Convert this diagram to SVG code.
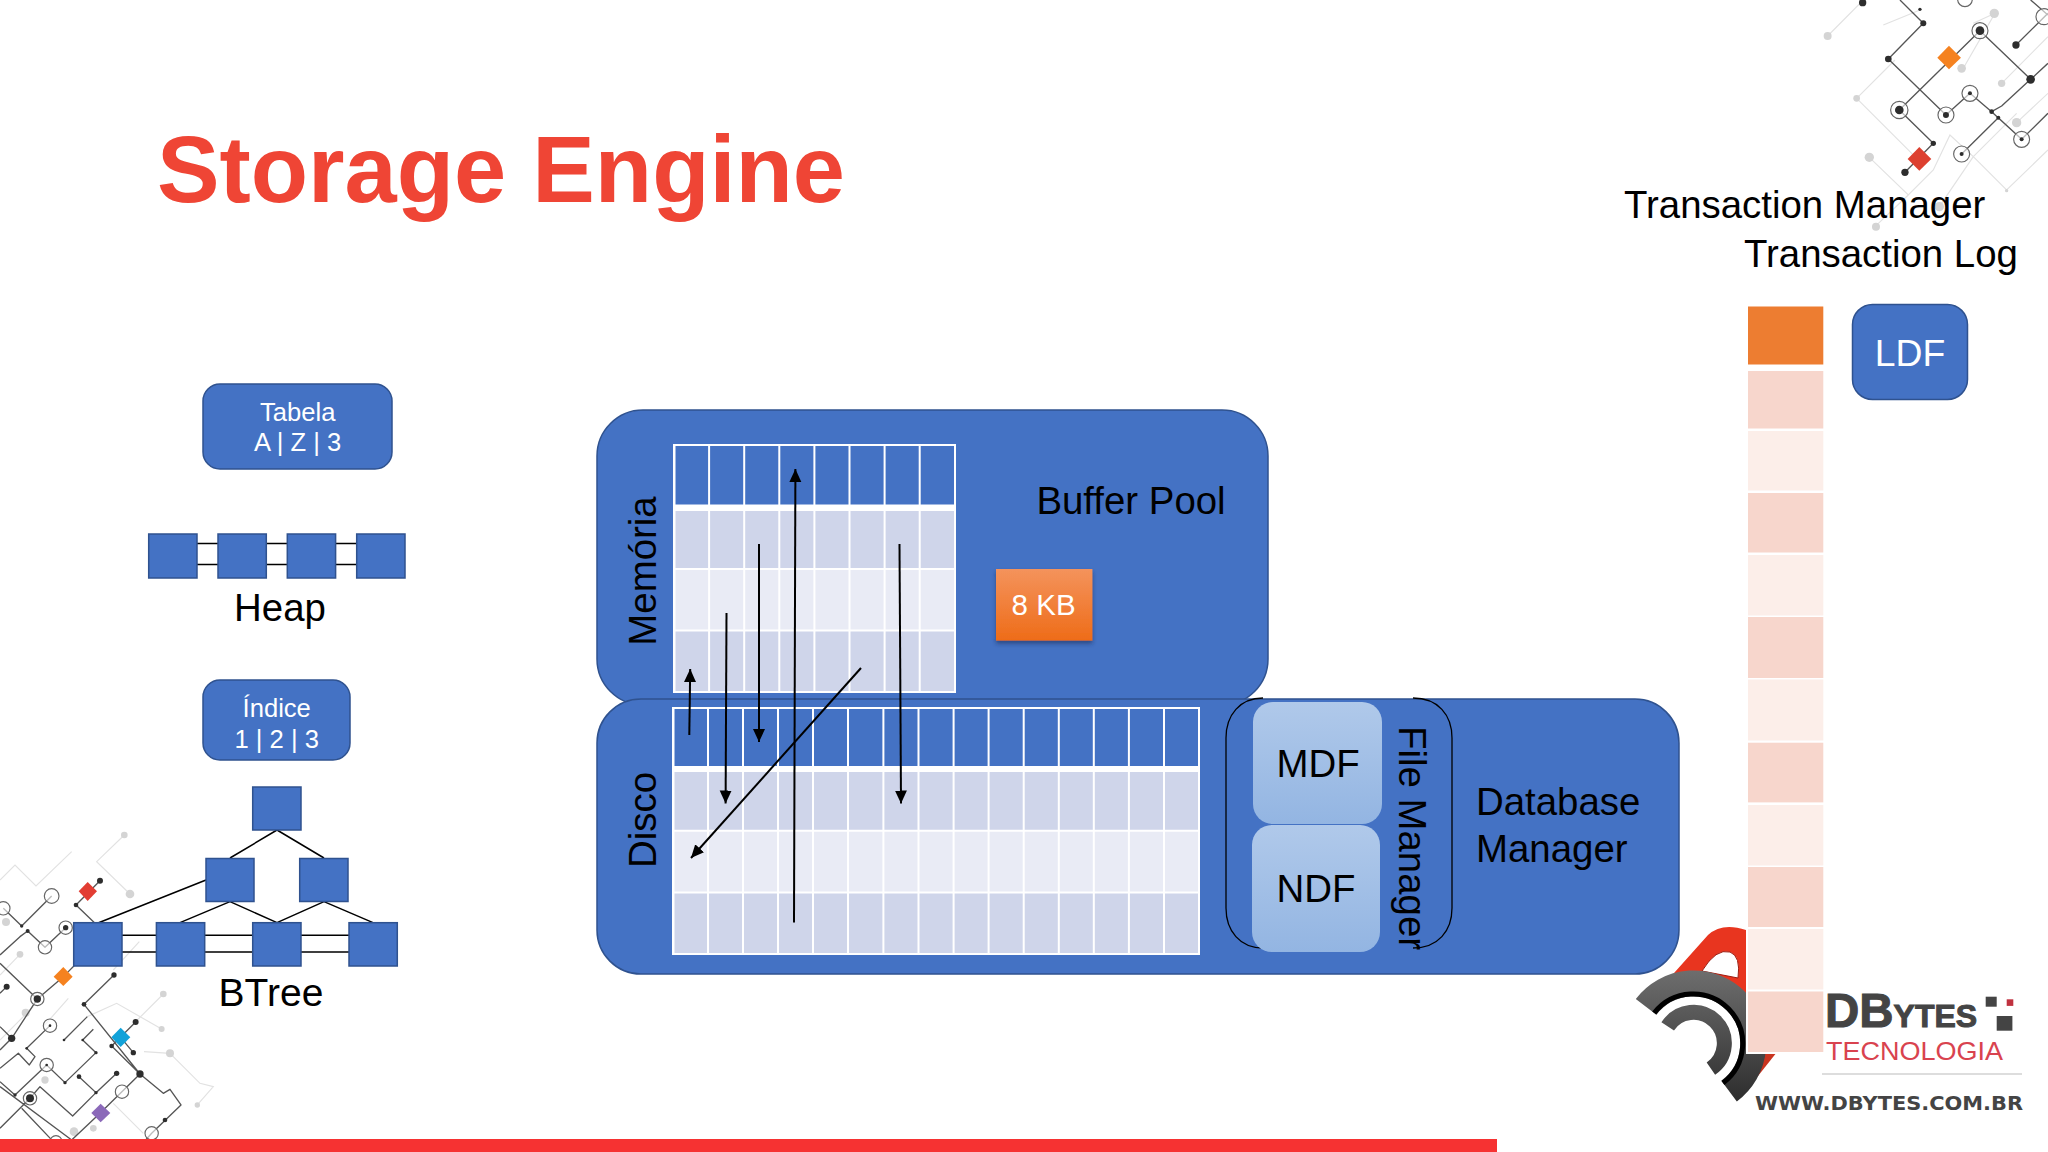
<svg xmlns="http://www.w3.org/2000/svg" width="2048" height="1152" viewBox="0 0 2048 1152">
<style>
text{font-family:"Liberation Sans",Arial,sans-serif}
.t{font-size:38.4px;fill:#000}
.tm{font-size:38.4px;fill:#000;text-anchor:middle}
.w24{font-size:25.6px;fill:#fff;text-anchor:middle}
.blue{fill:#4472C4;stroke:#2F528F;stroke-width:1.5}
.sq{fill:#4472C4;stroke:#2F528F;stroke-width:1.5}
.hd{fill:#4472C4}.r1{fill:#CFD5EA}.r2{fill:#E9EBF5}
.gl{stroke:#fff;stroke-width:2;fill:none}
.lk{stroke:#000;stroke-width:1.5;fill:none}
.ar{stroke:#000;stroke-width:2;fill:none;marker-end:url(#ah)}
.cd{stroke:#555;stroke-width:4;fill:none;stroke-linejoin:round}
.cl{stroke:#e2e2e2;stroke-width:3.5;fill:none}
.dd{fill:#2d2d2d}.ld{fill:#d4d4d4}
.ring{fill:#fff;fill-opacity:.6;stroke:#666;stroke-width:3.5}
.dark{fill:#F7D6CC}.lite{fill:#FCEEE9}
</style>
<defs>
<marker id="ah" markerUnits="userSpaceOnUse" markerWidth="13" markerHeight="13" refX="13" refY="6.5" orient="auto"><path d="M0 0.5L13 6.5L0 12.5Z" fill="#000"/></marker>
<linearGradient id="og" x1="0" y1="0" x2="0" y2="1"><stop offset="0" stop-color="#F4935C"/><stop offset="1" stop-color="#EE6C18"/></linearGradient>
<linearGradient id="lb" x1="0" y1="0" x2="0" y2="1"><stop offset="0" stop-color="#B0C9EA"/><stop offset="1" stop-color="#93B5E2"/></linearGradient>
<linearGradient id="gb" gradientUnits="userSpaceOnUse" x1="0" y1="970" x2="0" y2="1100"><stop offset="0" stop-color="#6E6E6E"/><stop offset="1" stop-color="#2E2E2E"/></linearGradient>
<filter id="sh" x="-20%" y="-20%" width="140%" height="140%"><feDropShadow dx="0" dy="3" stdDeviation="2" flood-color="#1d2f55" flood-opacity=".6"/></filter>
</defs>
<rect width="2048" height="1152" fill="#fff"/>

<g id="decor-top-right" transform="translate(1600,0) scale(.3333)">
<path class="cl" d="M683 108L790 0M770 295L885 180M770 295L945 470M808 472L925 585L1000 510L1050 405L1120 470L1220 570L1344 450M825 680L925 585M1090 205L1185 40L1120 70M1205 250L1344 110M1250 368L1344 280M1120 470L1250 340M850 75L960 30M1018 620L1120 470"/>
<circle class="ld" cx="683" cy="108" r="12"/><circle class="ld" cx="770" cy="295" r="10"/><circle class="ld" cx="808" cy="472" r="14"/><circle class="ld" cx="828" cy="680" r="12"/><circle class="ld" cx="1183" cy="40" r="14"/><circle class="ld" cx="1085" cy="205" r="13"/><circle class="ld" cx="1205" cy="250" r="11"/><circle class="ld" cx="1250" cy="368" r="14"/><circle class="ld" cx="1018" cy="620" r="14"/><circle class="ld" cx="1220" cy="572" r="5"/>
<path class="cd" d="M900 0L970 70L865 177L1038 345L1110 280L1175 335L1205 318L1292 238L1140 92L898 330L1000 430L915 517M1292 238L1344 190M1248 135L1344 40M1292 0L1344 45M1085 462L1195 353L1265 418L1344 340M1175 335L1265 418"/>
<circle class="ring" cx="898" cy="330" r="26"/><circle class="ring" cx="1140" cy="92" r="24"/><circle class="ring" cx="1038" cy="345" r="24"/><circle class="ring" cx="1110" cy="280" r="24"/><circle class="ring" cx="1085" cy="462" r="24"/><circle class="ring" cx="1265" cy="418" r="24"/><circle class="ring" cx="1095" cy="-2" r="22"/><circle class="ring" cx="1332" cy="50" r="24"/>
<circle class="dd" cx="788" cy="8" r="11"/><circle class="dd" cx="970" cy="70" r="9"/><circle class="dd" cx="865" cy="177" r="10"/><circle class="dd" cx="898" cy="330" r="13"/><circle class="dd" cx="1140" cy="92" r="13"/><circle class="dd" cx="1038" cy="345" r="9"/><circle class="dd" cx="1110" cy="280" r="6"/><circle class="dd" cx="1292" cy="238" r="13"/><circle class="dd" cx="1248" cy="135" r="11"/><circle class="dd" cx="1175" cy="335" r="7"/><circle class="dd" cx="1195" cy="353" r="6"/><circle class="dd" cx="1000" cy="430" r="8"/><circle class="dd" cx="915" cy="517" r="11"/><circle class="dd" cx="1085" cy="462" r="6"/><circle class="dd" cx="1265" cy="418" r="6"/><circle class="dd" cx="960" cy="28" r="5"/>
<path fill="#F58220" d="M1047 137L1083 173L1047 208L1012 173Z"/>
<path fill="#DD4030" d="M958 441L994 477L958 512L923 477Z"/>
</g>

<g id="decor-bottom-left" transform="translate(0,820) scale(.3333)">
<path class="cl" d="M373 45L290 125L390 222M215 95L108 198L45 135L0 180M60 403L0 465M490 522L400 612M432 695L510 700L600 790L640 800L592 855M418 365L340 450M485 627L350 550L262 590M100 560L0 660M205 535L130 620M340 850L430 940"/>
<circle class="ld" cx="373" cy="45" r="10"/><circle class="ld" cx="390" cy="222" r="13"/><circle class="ld" cx="18" cy="306" r="12"/><circle class="ld" cx="60" cy="403" r="10"/><circle class="ld" cx="77" cy="578" r="12"/><circle class="ld" cx="490" cy="522" r="10"/><circle class="ld" cx="485" cy="627" r="9"/><circle class="ld" cx="510" cy="700" r="12"/><circle class="ld" cx="592" cy="855" r="8"/><circle class="ld" cx="135" cy="780" r="11"/><circle class="ld" cx="222" cy="935" r="13"/><circle class="ld" cx="280" cy="925" r="10"/>
<path class="cd" d="M300 182L228 255L285 310M342 465L252 553L420 762L490 820L510 808L543 855L455 940L405 996M335 678L420 762L300 880L215 960M407 606L335 678M362 652L400 698M197 323L135 382L83 333L60 350L0 405M10 265L65 318L155 228M0 430L112 537L190 470L230 430M112 537L35 655L0 620M35 655L0 690M20 500L0 520M150 617L80 685L105 710L88 735L55 700L0 745M262 590L192 660M280 628L248 660L288 698L195 788L140 735L45 825L0 785M237 770L288 818L350 760M90 835L120 800L218 888L288 818M90 835L0 925M0 800L215 960M65 865L160 965"/>
<circle class="ring" cx="155" cy="228" r="22"/><circle class="ring" cx="10" cy="265" r="20"/><circle class="ring" cx="197" cy="323" r="20"/><circle class="ring" cx="135" cy="382" r="20"/><circle class="ring" cx="112" cy="537" r="20"/><circle class="ring" cx="150" cy="617" r="20"/><circle class="ring" cx="140" cy="735" r="20"/><circle class="ring" cx="90" cy="835" r="20"/><circle class="ring" cx="366" cy="815" r="20"/><circle class="ring" cx="455" cy="940" r="20"/><circle class="ring" cx="168" cy="965" r="18"/>
<circle class="dd" cx="300" cy="182" r="9"/><circle class="dd" cx="228" cy="255" r="7"/><circle class="dd" cx="342" cy="465" r="8"/><circle class="dd" cx="252" cy="553" r="7"/><circle class="dd" cx="335" cy="678" r="7"/><circle class="dd" cx="407" cy="606" r="9"/><circle class="dd" cx="400" cy="698" r="8"/><circle class="dd" cx="420" cy="762" r="11"/><circle class="dd" cx="350" cy="760" r="8"/><circle class="dd" cx="237" cy="770" r="7"/><circle class="dd" cx="288" cy="818" r="5"/><circle class="dd" cx="495" cy="900" r="7"/><circle class="dd" cx="197" cy="323" r="8"/><circle class="dd" cx="83" cy="333" r="6"/><circle class="dd" cx="65" cy="318" r="5"/><circle class="dd" cx="112" cy="537" r="11"/><circle class="dd" cx="35" cy="655" r="11"/><circle class="dd" cx="20" cy="500" r="9"/><circle class="dd" cx="90" cy="835" r="12"/><circle class="dd" cx="45" cy="825" r="5"/><circle class="dd" cx="195" cy="788" r="5"/><circle class="dd" cx="288" cy="698" r="5"/><circle class="dd" cx="248" cy="660" r="4"/><circle class="dd" cx="192" cy="660" r="4"/><circle class="dd" cx="80" cy="685" r="4"/><circle class="dd" cx="150" cy="617" r="4"/><circle class="dd" cx="140" cy="735" r="4"/>
<path fill="#E23D33" d="M263 186L291 214L263 243L236 214Z"/>
<path fill="#F58220" d="M190 441L218 470L190 498L161 470Z"/>
<path fill="#12A2D9" d="M362 623L391 652L362 681L334 652Z"/>
<path fill="#8B69B9" d="M302 851L331 879L302 907L274 879Z"/>
</g>

<rect id="footer-bar" x="0" y="1139" width="1497" height="13" fill="#F63232"/>

<text id="title" x="157" y="202" font-size="93.8" font-weight="700" fill="#EF4535">Storage Engine</text>

<g id="logo">
<path fill="#E8351F" d="M1666 982L1708 935Q1722 922 1746 930V1012L1700 990Z"/>
<path fill="#C9341F" d="M1748 1052H1777L1758 1076L1745 1066Z"/>
<path fill="#fff" stroke="#9d1c10" stroke-width="1" d="M1702 971Q1716 948 1730 952Q1741 956 1738 978Z"/>
<path fill="none" stroke="url(#gb)" stroke-width="26" d="M1646.1 1006.9A59.7 59.7 0 1 1 1729.1 1091.1"/>
<path fill="none" stroke="#000" stroke-width="5" d="M1654.2 1013A49.5 49.5 0 1 1 1723 1083"/>
<path fill="none" stroke="url(#gb)" stroke-width="15" d="M1667.7 1026.4A30.8 30.8 0 1 1 1710.9 1068.6"/>
<text x="1825" y="1027" font-size="47.5" font-weight="700" fill="#444" stroke="#444" stroke-width="1">DB<tspan font-size="32">YTES</tspan></text>
<rect x="1985.7" y="996.7" width="11" height="10" fill="#444"/><rect x="2006.7" y="999.3" width="6.6" height="6.6" fill="#C0313F"/><rect x="1996.7" y="1016" width="15.7" height="14.7" fill="#444"/>
<text x="1826" y="1060" font-size="25.6" fill="#D9434F" textLength="177" lengthAdjust="spacingAndGlyphs">TECNOLOGIA</text>
<rect x="1822" y="1073" width="200" height="2" fill="#DDD"/>
<text x="1755" y="1110" font-size="20" font-weight="700" fill="#444" style="font-family:'DejaVu Sans',sans-serif" textLength="268" lengthAdjust="spacingAndGlyphs">WWW.DBYTES.COM.BR</text>
</g>

<g id="node-tabela"><rect class="blue" x="203" y="384" width="189" height="85" rx="17"/><text class="w24" x="297.7" y="420.5">Tabela</text><text class="w24" x="297.7" y="451">A | Z | 3</text></g>
<g id="connectors-tree">
<path class="lk" d="M197 543.4H218M197 564.4H218M266 543.4H287M266 564.4H287M335.7 543.4H357M335.7 564.4H357"/>
<path class="lk" d="M277 830L230 858M277 830L324 858M206 880L98 923M230 901.6L180 922.6M230 901.6L277 922.6M324 901.6L277 922.6M324 901.6L373 922.6"/>
<path class="lk" d="M122 935.3H156M122 952H156M204.7 935.3H252.7M204.7 952H252.7M301 935.3H349M301 952H349"/>
</g>
<g id="node-heap-1"><rect class="sq" x="148.7" y="534" width="48.3" height="44"/></g>
<g id="node-heap-2"><rect class="sq" x="218" y="534" width="48.3" height="44"/></g>
<g id="node-heap-3"><rect class="sq" x="287.3" y="534" width="48.3" height="44"/></g>
<g id="node-heap-4"><rect class="sq" x="356.7" y="534" width="48.3" height="44"/></g>
<text id="label-heap" class="tm" x="280" y="621">Heap</text>
<g id="node-indice"><rect class="blue" x="203" y="680" width="147" height="80" rx="17"/><text class="w24" x="276.7" y="717">Índice</text><text class="w24" x="276.7" y="747.5">1 | 2 | 3</text></g>
<g id="node-btree-root"><rect class="sq" x="252.7" y="787" width="48.3" height="43"/></g>
<g id="node-btree-mid-1"><rect class="sq" x="206" y="858.5" width="48" height="43"/></g>
<g id="node-btree-mid-2"><rect class="sq" x="299.7" y="858.5" width="48.3" height="43"/></g>
<g id="node-btree-leaf-1"><rect class="sq" x="73.7" y="922.7" width="48.3" height="43.3"/></g>
<g id="node-btree-leaf-2"><rect class="sq" x="156.4" y="922.7" width="48.3" height="43.3"/></g>
<g id="node-btree-leaf-3"><rect class="sq" x="252.7" y="922.7" width="48.3" height="43.3"/></g>
<g id="node-btree-leaf-4"><rect class="sq" x="349" y="922.7" width="48.3" height="43.3"/></g>
<text id="label-btree" class="tm" x="271" y="1006" style="font-size:39px">BTree</text>

<g id="node-memoria">
<rect class="blue" x="597" y="410" width="671" height="295" rx="46"/>
<rect x="673" y="444" width="283" height="249" fill="#fff"/>
<rect class="hd" x="674" y="445" width="281" height="59.5"/><rect class="r1" x="674" y="511" width="281" height="57.5"/><rect class="r2" x="674" y="569" width="281" height="61"/><rect class="r1" x="674" y="631" width="281" height="61"/>
<path class="gl" d="M709.1 445V692M744.2 445V692M779.3 445V692M814.4 445V692M849.5 445V692M884.6 445V692M919.7 445V692"/>
<rect class="gl" x="674.5" y="445" width="280.5" height="247"/>
<path class="gl" d="M674 569H955M674 630.5H955"/>
<text class="tm" transform="translate(656,571) rotate(-90)">Memória</text>
<text class="tm" x="1131" y="513.5">Buffer Pool</text>
</g>
<g id="node-8kb"><rect x="996" y="569" width="96.4" height="71.6" fill="url(#og)" filter="url(#sh)"/><text x="1043.6" y="615" font-size="29.5" fill="#fff" text-anchor="middle">8 KB</text></g>

<g id="node-disco">
<rect class="blue" x="597" y="699" width="1082" height="275" rx="44"/>
<rect x="672" y="707" width="528" height="248" fill="#fff"/>
<rect class="hd" x="673" y="708" width="526" height="58"/><rect class="r1" x="673" y="772" width="526" height="58.5"/><rect class="r2" x="673" y="831" width="526" height="61.5"/><rect class="r1" x="673" y="893" width="526" height="60.5"/>
<path class="gl" d="M708 708V954M743 708V954M778 708V954M813 708V954M848 708V954M883.4 708V954M918.5 708V954M953.6 708V954M988.6 708V954M1023.7 708V954M1058.8 708V954M1093.8 708V954M1128.9 708V954M1164 708V954"/>
<rect class="gl" x="673.5" y="708" width="525.5" height="246"/>
<path class="gl" d="M673 830.7H1199M673 892.5H1199"/>
<text class="tm" transform="translate(656,820) rotate(-90)">Disco</text>
<text class="t" x="1476" y="815">Database</text>
<text class="t" x="1476" y="862">Manager</text>
</g>
<g id="node-file-manager">
<path fill="none" stroke="#000" stroke-width="1.3" d="M1263 698C1240 698 1226 715 1226 738V908C1226 931 1240 948 1263 948M1413 698C1438 698 1452 715 1452 738V908C1452 931 1438 948 1413 948"/>
<text class="t" transform="translate(1399,726) rotate(90)">File Manager</text>
</g>
<g id="node-mdf"><rect x="1253" y="702" width="129" height="122" rx="20" fill="url(#lb)"/><text class="tm" x="1318" y="777">MDF</text></g>
<g id="node-ndf"><rect x="1252" y="825" width="128" height="127" rx="20" fill="url(#lb)"/><text class="tm" x="1316" y="902">NDF</text></g>

<g id="connectors">
<path class="ar" d="M689.3 735L690.2 669"/>
<path class="ar" d="M726.5 613L725.6 803.5"/>
<path class="ar" d="M759 544V742"/>
<path class="ar" d="M794 922.5L795.4 469"/>
<path class="ar" d="M899.5 544L901 803.5"/>
<path class="ar" d="M861 668L691 858"/>
</g>

<text id="label-transaction-manager" x="1624" y="218" font-size="38.4" fill="#000">Transaction Manager</text>
<text id="label-transaction-log" x="1744" y="267" font-size="38.4" fill="#000">Transaction Log</text>

<g id="transaction-log">
<rect x="1746" y="929" width="79" height="125" fill="#fff"/>
<rect x="1748" y="306.5" width="75.3" height="58" fill="#ED7D31"/>
<rect class="dark" x="1748" y="371" width="75.3" height="57.5"/>
<rect class="lite" x="1748" y="431" width="75.3" height="59.5"/>
<rect class="dark" x="1748" y="493" width="75.3" height="59.5"/>
<rect class="lite" x="1748" y="555" width="75.3" height="60.5"/>
<rect class="dark" x="1748" y="617" width="75.3" height="61"/>
<rect class="lite" x="1748" y="679.5" width="75.3" height="61"/>
<rect class="dark" x="1748" y="742.7" width="75.3" height="59.7"/>
<rect class="lite" x="1748" y="805" width="75.3" height="60.5"/>
<rect class="dark" x="1748" y="867" width="75.3" height="60"/>
<rect class="lite" x="1748" y="929" width="75.3" height="60.5"/>
<rect class="dark" x="1748" y="991.5" width="75.3" height="60.5"/>
</g>
<g id="node-ldf"><rect class="blue" x="1852.5" y="304.5" width="115" height="95" rx="20"/><text x="1910" y="366" font-size="37.3" fill="#fff" text-anchor="middle">LDF</text></g>
</svg>
